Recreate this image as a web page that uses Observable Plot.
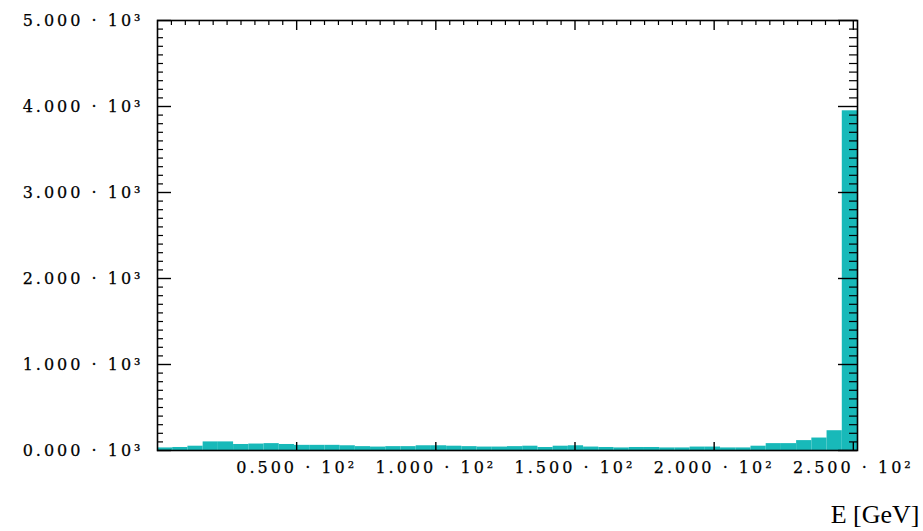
<!DOCTYPE html>
<html><head><meta charset="utf-8">
<script src="https://cdn.jsdelivr.net/npm/d3@7"></script>
<script src="https://cdn.jsdelivr.net/npm/@observablehq/plot@0.6"></script>
<style>
html,body{margin:0;padding:0;background:#fff;}
#chart svg g[aria-label$="tick label"] text { letter-spacing: 3px; stroke: #000; stroke-width: 0.25px; }
</style></head><body><div id="chart"></div>
<script>
// Histogram range (GeV) and counts per bin
const eMin = 0, eMax = 251.5;
const counts = [30,35,50,100,100,70,75,80,70,60,
                60,60,55,45,40,45,45,55,55,50,
                45,40,40,45,50,35,50,55,40,35,
                30,35,35,30,30,40,40,30,30,50,
                80,80,115,145,230,3950];
const yTicks = [0,1000,2000,3000,4000,5000];
const xTicks = [50,100,150,200,250];
const xLabel = "E [GeV]";

const W = 923, H = 531, mL = 157, mR = 66, mT = 20, mB = 81;
const fw = W - mL - mR, fh = H - mT - mB;
const bw = (eMax - eMin) / counts.length;
const bins = counts.map((c, i) => ({x1: eMin + i * bw, x2: eMin + (i + 1) * bw, y: c}));
const yMinor = d3.range(100, 5000, 100).filter(v => v % 1000 !== 0);
const xMinor = d3.range(5, 251, 5).filter(v => v % 50 !== 0);

const chart = Plot.plot({
  width: W, height: H,
  marginLeft: mL, marginRight: mR, marginTop: mT, marginBottom: mB,
  style: {background: "#fff", color: "#000"},
  x: {domain: [eMin, eMax]},
  y: {domain: [0, 5000]},
  marks: [
    Plot.rectY(bins, {x1: "x1", x2: "x2", y: "y", fill: "#18b9b9"}),
    Plot.frame({stroke: "#000", strokeWidth: 1.6}),
    // left ticks
    Plot.tickY(yTicks, {y: d => d, insetRight: fw - 14, stroke: "#000", strokeWidth: 1.4}),
    Plot.tickY(yMinor, {y: d => d, insetRight: fw - 6, stroke: "#000", strokeWidth: 1.2}),
    // right ticks
    Plot.tickY(yTicks, {y: d => d, insetLeft: fw - 19, stroke: "#000", strokeWidth: 1.4}),
    Plot.tickY(yMinor, {y: d => d, insetLeft: fw - 8, stroke: "#000", strokeWidth: 1.2}),
    // top ticks
    Plot.tickX(xTicks, {x: d => d, insetBottom: fh - 10, stroke: "#000", strokeWidth: 1.4}),
    Plot.tickX(xMinor, {x: d => d, insetBottom: fh - 5, stroke: "#000", strokeWidth: 1.2}),
    // bottom ticks
    Plot.tickX(xTicks, {x: d => d, insetTop: fh - 8, stroke: "#000", strokeWidth: 1.4}),
    Plot.axisY({anchor: "left", ticks: yTicks, tickSize: 0, tickPadding: 14, label: null,
      tickFormat: d => (d / 1000).toFixed(3) + " · 10³", fontSize: 16, fontFamily: "DejaVu Serif"}),
    Plot.axisX({anchor: "bottom", ticks: xTicks, tickSize: 0, tickPadding: 11, label: null,
      tickFormat: d => (d / 100).toFixed(3) + " · 10²", fontSize: 16, fontFamily: "DejaVu Serif"}),
    Plot.text([xLabel], {text: d => d, frameAnchor: "bottom-right", textAnchor: "end",
      dx: 62, dy: 72, fontSize: 26, fontFamily: "Liberation Serif", fill: "#000"})
  ]
});
document.getElementById("chart").appendChild(chart);
</script></body></html>
